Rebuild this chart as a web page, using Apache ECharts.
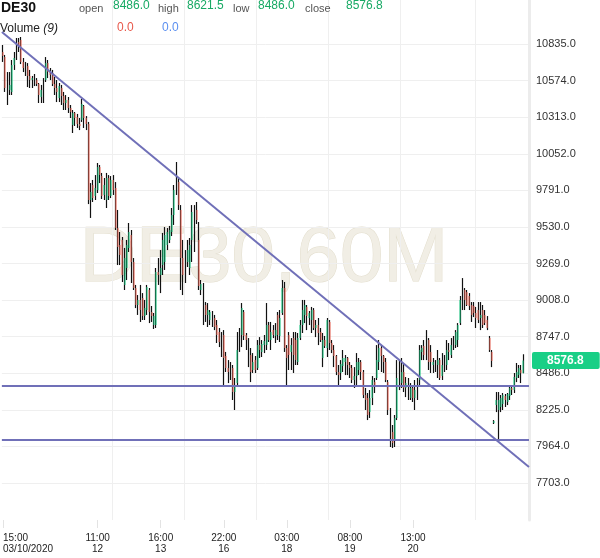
<!DOCTYPE html>
<html>
<head>
<meta charset="utf-8">
<script src="https://cdn.jsdelivr.net/npm/echarts@6/dist/echarts.min.js"></script>
<style>
  html, body { margin: 0; padding: 0; background: #fff; }
  #chart { width: 600px; height: 558px; }
</style>
</head>
<body>
<div id="chart"></div>
<script>
// DE30 hourly candles, [open, close, low, high]
const candles = [
  [10778, 10749, 10707, 10828], [10742, 10521, 10493, 10757], [10614, 10507, 10400, 10635], [10507, 10543, 10471, 10635], [10493, 10685, 10471, 10721],
  [10685, 10735, 10650, 10778], [10735, 10849, 10721, 10878], [10849, 10821, 10778, 10878], [10864, 10707, 10692, 10885], [10707, 10664, 10635, 10735],
  [10692, 10635, 10607, 10707], [10678, 10607, 10528, 10699], [10607, 10578, 10521, 10650], [10578, 10592, 10521, 10607], [10614, 10564, 10535, 10621],
  [10578, 10550, 10535, 10592], [10550, 10471, 10414, 10557], [10457, 10507, 10414, 10543], [10436, 10578, 10414, 10592], [10578, 10699, 10564, 10742],
  [10699, 10635, 10592, 10721], [10635, 10614, 10578, 10664], [10628, 10550, 10535, 10650], [10550, 10521, 10471, 10600], [10521, 10493, 10421, 10578],
  [10450, 10535, 10421, 10557], [10521, 10464, 10400, 10543], [10464, 10414, 10364, 10493], [10414, 10436, 10364, 10471], [10436, 10378, 10343, 10457],
  [10378, 10350, 10307, 10400], [10257, 10343, 10200, 10364], [10343, 10307, 10250, 10350], [10314, 10264, 10236, 10336], [10264, 10250, 10221, 10307],
  [10293, 10407, 10279, 10443], [10393, 10307, 10236, 10400], [10307, 10264, 10221, 10321], [10264, 9722, 9693, 10279], [9722, 9779, 9594, 9843],
  [9829, 9736, 9708, 9865], [9751, 9808, 9722, 9900], [9793, 9957, 9772, 9986], [9957, 9900, 9843, 9972], [9893, 9751, 9729, 9915],
  [9758, 9829, 9722, 9879], [9722, 9879, 9665, 9915], [9879, 9751, 9722, 9900], [9751, 9865, 9736, 9893], [9865, 9793, 9758, 9900],
  [9808, 9522, 9508, 9850], [9522, 9387, 9258, 9651], [9401, 9330, 9258, 9494], [9437, 9187, 9137, 9458], [9116, 9308, 9080, 9380],
  [9237, 9401, 9151, 9437], [9380, 9494, 9351, 9558], [9472, 9280, 9130, 9508], [9280, 9094, 9080, 9308], [9094, 8973, 8951, 9116],
  [8973, 9009, 8902, 9044], [9009, 8937, 8852, 9116], [9023, 8894, 8866, 9058], [8894, 8951, 8866, 9009], [8937, 9101, 8902, 9116],
  [9080, 8923, 8844, 9094], [8923, 8894, 8852, 8966], [8830, 8894, 8802, 8916], [8830, 9208, 8809, 9237], [9208, 9187, 9116, 9308],
  [9187, 9237, 9058, 9365], [9258, 9437, 9187, 9487], [9280, 9472, 9223, 9529], [9401, 9494, 9365, 9522], [9437, 9508, 9415, 9537],
  [9494, 9615, 9465, 9665], [9615, 9793, 9544, 9829], [9808, 9922, 9758, 9993], [9850, 9686, 9651, 9879], [9651, 9308, 9080, 9686],
  [9308, 9187, 9044, 9437], [9223, 9280, 9130, 9365], [9280, 9365, 9244, 9437], [9237, 9401, 9187, 9451], [9437, 9636, 9280, 9686],
  [9380, 9651, 9351, 9686], [9651, 9579, 9551, 9708], [9437, 9108, 9080, 9565], [9080, 9123, 9044, 9151], [9108, 8880, 8830, 9130],
  [8973, 8902, 8852, 8994], [8902, 8937, 8816, 8987], [8866, 8923, 8830, 8937], [8916, 8866, 8816, 8930], [8880, 8816, 8794, 8902],
  [8830, 8759, 8702, 8866], [8780, 8709, 8673, 8809], [8709, 8666, 8602, 8780], [8759, 8595, 8388, 8794], [8609, 8523, 8495, 8638],
  [8523, 8495, 8416, 8580], [8473, 8538, 8438, 8566], [8523, 8352, 8295, 8545], [8352, 8402, 8224, 8452], [8416, 8652, 8388, 8780],
  [8652, 8737, 8638, 8809], [8759, 8951, 8673, 8987], [8923, 8752, 8723, 8937], [8759, 8723, 8652, 8773], [8723, 8595, 8530, 8737],
  [8616, 8495, 8423, 8666], [8509, 8566, 8488, 8630], [8580, 8509, 8488, 8609], [8523, 8687, 8509, 8723], [8687, 8652, 8595, 8744],
  [8638, 8695, 8602, 8723], [8687, 8716, 8630, 8759], [8687, 8830, 8652, 8987], [8830, 8723, 8709, 8852], [8723, 8780, 8652, 8852],
  [8794, 8759, 8737, 8830], [8752, 8794, 8702, 8844], [8902, 8759, 8723, 8923], [8752, 8880, 8709, 8937], [8916, 9094, 8902, 9151],
  [9094, 8666, 8638, 9137], [8666, 8595, 8402, 8687], [8759, 8616, 8509, 8780], [8638, 8687, 8509, 8737], [8737, 8616, 8488, 8780],
  [8723, 8580, 8545, 8780], [8566, 8737, 8545, 8773], [8737, 8830, 8723, 8866], [8830, 8937, 8773, 9009], [8902, 8973, 8844, 9009],
  [8959, 8894, 8794, 8973], [8880, 8916, 8830, 8930], [8866, 8937, 8773, 8959], [8937, 8809, 8794, 8951], [8809, 8830, 8744, 8866],
  [8830, 8773, 8687, 8880], [8780, 8723, 8709, 8809], [8595, 8723, 8530, 8773], [8723, 8680, 8666, 8752], [8666, 8866, 8602, 8880],
  [8852, 8702, 8652, 8866], [8702, 8652, 8630, 8723], [8652, 8609, 8530, 8687], [8609, 8495, 8473, 8616], [8495, 8473, 8388, 8545],
  [8488, 8552, 8438, 8580], [8538, 8595, 8495, 8652], [8566, 8595, 8473, 8616], [8595, 8545, 8473, 8602], [8545, 8523, 8452, 8566],
  [8523, 8438, 8416, 8545], [8438, 8466, 8381, 8530], [8466, 8566, 8388, 8630], [8509, 8566, 8473, 8595], [8566, 8495, 8438, 8580],
  [8495, 8331, 8309, 8509], [8331, 8295, 8224, 8381], [8309, 8188, 8152, 8345], [8209, 8309, 8167, 8366], [8309, 8438, 8259, 8466],
  [8423, 8395, 8345, 8452], [8452, 8580, 8438, 8687], [8566, 8666, 8509, 8723], [8666, 8609, 8495, 8687], [8609, 8566, 8488, 8616],
  [8566, 8438, 8423, 8595], [8423, 8224, 8188, 8438], [8224, 8045, 7960, 8238], [8067, 7988, 7953, 8117], [8010, 8167, 7960, 8188],
  [8167, 8452, 8152, 8580], [8566, 8402, 8366, 8580], [8416, 8495, 8381, 8595], [8495, 8381, 8352, 8559], [8381, 8416, 8316, 8459],
  [8416, 8309, 8295, 8452], [8309, 8381, 8295, 8416], [8381, 8309, 8281, 8402], [8309, 8366, 8224, 8438], [8352, 8409, 8295, 8452],
  [8438, 8652, 8402, 8687], [8638, 8666, 8580, 8687], [8680, 8616, 8580, 8723], [8609, 8737, 8580, 8794], [8723, 8566, 8509, 8737],
  [8638, 8566, 8488, 8687], [8545, 8566, 8488, 8595], [8509, 8552, 8495, 8580], [8545, 8580, 8452, 8652], [8580, 8452, 8438, 8595],
  [8466, 8545, 8438, 8630], [8595, 8523, 8495, 8616], [8545, 8652, 8509, 8723], [8652, 8638, 8580, 8702], [8616, 8687, 8595, 8737],
  [8687, 8709, 8652, 8752], [8687, 8780, 8666, 8794], [8723, 8830, 8673, 8844], [8844, 9009, 8830, 9037], [8994, 9080, 8937, 9165],
  [9080, 9009, 8937, 9094], [9066, 8973, 8966, 9080], [9037, 8966, 8937, 9058], [8973, 8902, 8852, 8994], [8966, 8916, 8887, 8994],
  [8916, 8880, 8809, 8959], [8937, 8866, 8844, 8994], [8880, 8902, 8794, 8994], [8937, 8830, 8809, 8973], [8902, 8844, 8830, 8937],
  [8866, 8809, 8794, 8894], [8737, 8652, 8638, 8752], [8638, 8573, 8530, 8652], [8131, 8145, 8124, 8152], [8259, 8295, 8209, 8352],
  [8224, 8295, 7995, 8352], [8245, 8309, 8209, 8331], [8266, 8331, 8224, 8345], [8324, 8295, 8245, 8338], [8281, 8338, 8259, 8345],
  [8324, 8381, 8295, 8402], [8381, 8366, 8331, 8402], [8366, 8459, 8345, 8488], [8452, 8495, 8423, 8559], [8473, 8523, 8452, 8545],
  [8509, 8486, 8416, 8545], [8486.0, 8576.8, 8486.0, 8621.5]
];

// x axis labels sit on these candles
const tickIndex = [0, 42, 70, 98, 126, 154, 182];
const tickTime = ['15:00', '11:00', '16:00', '22:00', '03:00', '08:00', '13:00'];
const tickDate = ['03/10/2020', '12', '13', '16', '18', '19', '20'];

const yTicks = [7703, 7964, 8225, 8486, 8747, 9008, 9269, 9530, 9791, 10052, 10313, 10574, 10835];
const yMin = 7439;
const yMax = 11149;

// drawn trend lines, price at the left and right edge of the plot
const trendDown = [10921, 7817];
const supportHigh = [8395, 8395];
const supportLow = [8010, 8010];

// vertical grid sits on these candle boundaries
const gridBoundary = [49, 81, 113, 145, 177, 210];

const green = '#19cf86';
const red = '#fa6e5e';
const trendColor = '#7070b8';

const last = candles[candles.length - 1];
const cats = candles.map((d, i) => String(i)).concat(['p1', 'p2']);
const bodies = candles.map(d => [d[0], d[1], Math.min(d[0], d[1]), Math.max(d[0], d[1])]);
const isTick = (i) => tickIndex.indexOf(i) >= 0;

const trendSeries = (vals) => ({
  type: 'line',
  xAxisIndex: 1,
  data: [[0, vals[0]], [1, vals[1]]],
  symbol: 'none',
  silent: true,
  lineStyle: { color: trendColor, width: 2 },
  z: 6,
});

const chart = echarts.init(document.getElementById('chart'));

const option = {
  animation: false,
  grid: { left: 0, right: 71, top: 0, bottom: 38 },
  xAxis: [
    {
      type: 'category',
      data: cats,
      axisLine: { show: false },
      axisTick: {
        show: true,
        alignWithLabel: true,
        interval: (i) => isTick(i),
        length: 8,
        lineStyle: { color: '#e3e3e3' },
      },
      axisLabel: {
        interval: (i) => isTick(i),
        formatter: (v) => {
          const k = tickIndex.indexOf(Number(v));
          return k < 0 ? '' : tickTime[k] + '\n' + tickDate[k];
        },
        alignMinLabel: 'left',
        color: '#222',
        fontSize: 10,
        lineHeight: 11,
        fontFamily: 'Arial',
        margin: 13,
      },
      splitLine: {
        show: true,
        interval: (i) => gridBoundary.indexOf(i) >= 0,
        lineStyle: { color: '#efefef' },
      },
    },
    {
      type: 'value',
      min: 0,
      max: 1,
      position: 'top',
      axisLine: { show: false, onZero: false },
      axisTick: { show: false },
      axisLabel: { show: false },
      splitLine: { show: false },
    },
  ],
  yAxis: {
    type: 'value',
    position: 'right',
    min: yMin,
    max: yMax,
    axisLine: { show: true, onZero: false, lineStyle: { color: '#ececec', width: 3 } },
    axisTick: { show: false, customValues: yTicks },
    axisLabel: {
      customValues: yTicks,
      formatter: v => v.toFixed(1),
      color: '#333',
      fontSize: 11,
      fontFamily: 'Arial',
      margin: 7,
    },
    splitLine: { show: true, lineStyle: { color: '#efefef' } },
  },
  graphic: [
    {
      type: 'text', x: 264, y: 259, z: -1, silent: true,
      style: {
        text: 'DE30,60M', font: '78px Arial', fill: '#f1eee5',
        stroke: '#e2ddcc', lineWidth: 1, align: 'center', verticalAlign: 'middle',
      },
    },
    { type: 'text', x: 1, y: 8, z: 10, style: { text: 'DE30', font: 'bold 14px Arial', fill: '#111', verticalAlign: 'middle' } },
    { type: 'text', x: 79, y: 8.6, z: 10, style: { text: 'open', font: '11px Arial', fill: '#555', verticalAlign: 'middle' } },
    { type: 'text', x: 113, y: 5.6, z: 10, style: { text: last[0].toFixed(1), font: '12px Arial', fill: '#17a964', verticalAlign: 'middle' } },
    { type: 'text', x: 158, y: 8.6, z: 10, style: { text: 'high', font: '11px Arial', fill: '#555', verticalAlign: 'middle' } },
    { type: 'text', x: 187, y: 5.6, z: 10, style: { text: last[3].toFixed(1), font: '12px Arial', fill: '#17a964', verticalAlign: 'middle' } },
    { type: 'text', x: 233, y: 8.6, z: 10, style: { text: 'low', font: '11px Arial', fill: '#555', verticalAlign: 'middle' } },
    { type: 'text', x: 258, y: 5.6, z: 10, style: { text: last[2].toFixed(1), font: '12px Arial', fill: '#17a964', verticalAlign: 'middle' } },
    { type: 'text', x: 305, y: 8.6, z: 10, style: { text: 'close', font: '11px Arial', fill: '#555', verticalAlign: 'middle' } },
    { type: 'text', x: 346, y: 5.6, z: 10, style: { text: last[1].toFixed(1), font: '12px Arial', fill: '#17a964', verticalAlign: 'middle' } },
    {
      type: 'text', x: 0, y: 29, z: 10,
      style: {
        text: '{a|Volume }{b|(9)}', verticalAlign: 'middle',
        rich: {
          a: { fontSize: 12, fontFamily: 'Arial', fill: '#222', color: '#222' },
          b: { fontSize: 12, fontFamily: 'Arial', fontStyle: 'italic', fill: '#222', color: '#222' },
        },
      },
    },
    { type: 'text', x: 117, y: 27.5, z: 10, style: { text: '0.0', font: '12px Arial', fill: '#e8584b', verticalAlign: 'middle' } },
    { type: 'text', x: 162, y: 27.5, z: 10, style: { text: '0.0', font: '12px Arial', fill: '#5b8ff0', verticalAlign: 'middle' } },
  ],
  series: [
    {
      type: 'candlestick',
      name: 'wick',
      data: candles,
      barWidth: 0.6,
      silent: true,
      itemStyle: { color: '#111', color0: '#111', borderColor: '#111', borderColor0: '#111', borderWidth: 1.2 },
      z: 3,
    },
    {
      type: 'candlestick',
      name: 'body',
      data: bodies,
      barWidth: 1.4,
      silent: true,
      itemStyle: { color: green, color0: red, borderColor: green, borderColor0: red, borderWidth: 0 },
      z: 4,
      markLine: {
        silent: true,
        symbol: ['none', 'none'],
        data: [{ yAxis: last[1] }],
        lineStyle: { color: 'rgba(0,0,0,0)', width: 0 },
        label: {
          position: 'end',
          distance: 3,
          formatter: p => Number(p.value).toFixed(1),
          backgroundColor: green,
          color: '#fff',
          fontWeight: 'bold',
          fontSize: 12,
          fontFamily: 'Arial',
          padding: [3, 16, 2, 15],
          borderRadius: 2,
        },
      },
    },
    trendSeries(trendDown),
    trendSeries(supportHigh),
    trendSeries(supportLow),
  ],
};

chart.setOption(option);
</script>
</body>
</html>
